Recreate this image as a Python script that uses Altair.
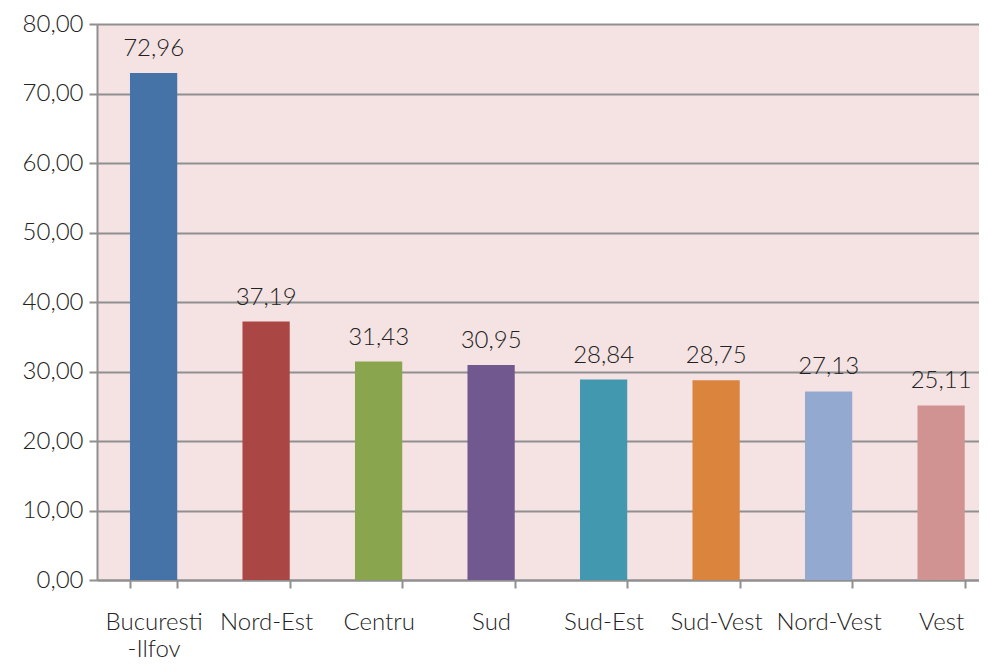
import altair as alt
import pandas as pd

regions = ["Bucuresti-Ilfov", "Nord-Est", "Centru", "Sud", "Sud-Est", "Sud-Vest", "Nord-Vest", "Vest"]
values = [72.96, 37.19, 31.43, 30.95, 28.84, 28.75, 27.13, 25.11]
colors = ["#4572A7", "#AA4643", "#89A54E", "#71588F", "#4198AF", "#DB843D", "#93A9CF", "#D19392"]
y_ticks = [0, 10, 20, 30, 40, 50, 60, 70, 80]

df = pd.DataFrame({"region": regions, "value": values})

FONT = "Lato"
FW = 300
FS = 24

xscale = alt.Scale(paddingInner=0.58, paddingOuter=0.21, align=0.698)

x = alt.X(
    "region:N",
    sort=regions,
    title=None,
    scale=xscale,
    axis=alt.Axis(
        labelAngle=0,
        labelFontSize=FS,
        labelFont=FONT,
        labelFontWeight=FW,
        labelColor="#222222",
        labelPadding=22,
        labelLineHeight=27,
        labelExpr="datum.label == 'Bucuresti-Ilfov' ? ['Bucuresti', '  -Ilfov'] : datum.label",
        tickBand="extent",
        tickSize=8,
        tickColor="#8F8F8F",
        tickWidth=2,
        domainColor="#8F8F8F",
        domainWidth=2,
        labelOverlap=False,
    ),
)

bars = alt.Chart(df).mark_bar().encode(
    x=x,
    y=alt.Y(
        "value:Q",
        title=None,
        scale=alt.Scale(domain=[0, 80]),
        axis=alt.Axis(
            values=y_ticks,
            labelExpr="replace(format(datum.value, '.2f'), '.', ',')",
            labelFontSize=FS,
            labelFont=FONT,
            labelFontWeight=FW,
            labelColor="#222222",
            labelPadding=6,
            tickSize=8,
            tickColor="#8F8F8F",
            tickWidth=2,
            domainColor="#8F8F8F",
            domainWidth=2,
            gridColor="#8F8F8F",
            gridWidth=2,
        ),
    ),
    color=alt.Color("region:N", scale=alt.Scale(domain=regions, range=colors), legend=None),
)

text = alt.Chart(df).transform_calculate(
    lbl="replace(format(datum.value, '.2f'), '.', ',')"
).mark_text(baseline="bottom", dy=-12, fontSize=FS, font=FONT, fontWeight=FW, color="#222222").encode(
    x=alt.X("region:N", sort=regions, scale=xscale),
    y="value:Q",
    text="lbl:N",
)

chart = alt.layer(bars, text).properties(
    width=882,
    height=556,
    autosize=alt.AutoSizeParams(type="none"),
    padding={"left": 89, "top": 16, "right": 0, "bottom": 80},
).configure_view(fill="#F5E3E4", stroke=None)

chart.save("out.html", embed_options={"renderer": "svg", "actions": False})
